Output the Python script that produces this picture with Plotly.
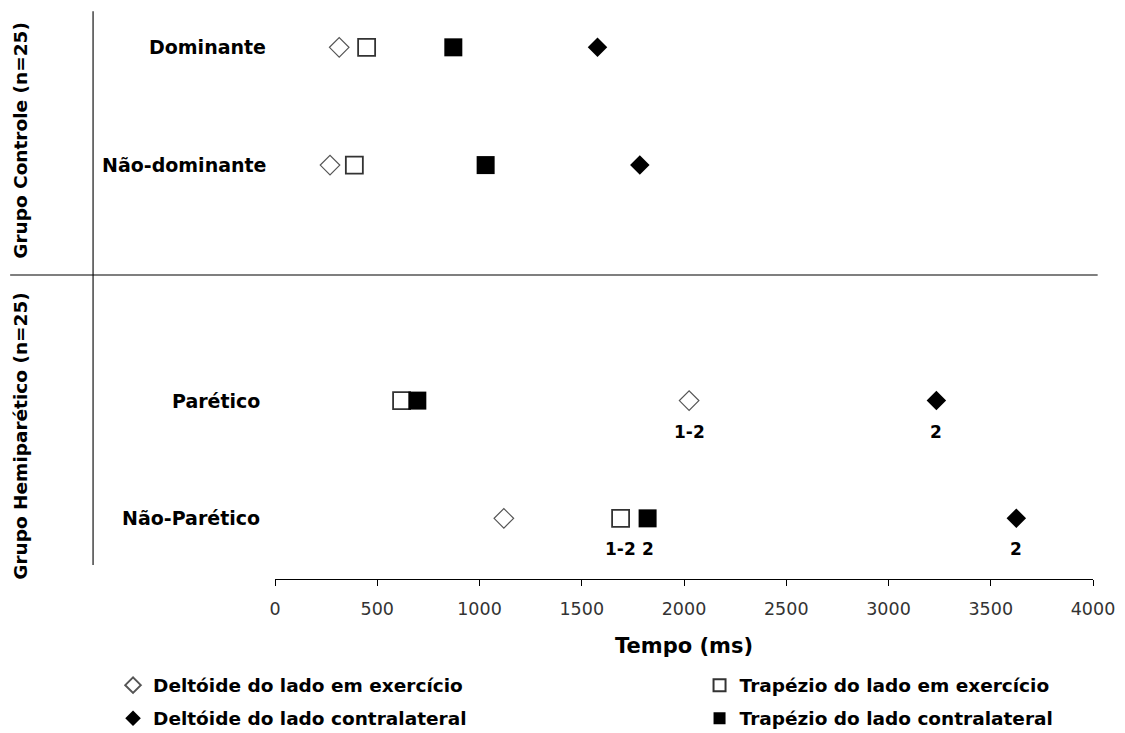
import plotly.graph_objects as go

# ---- data ----
rows = ["Dominante", "Não-dominante", "Parético", "Não-Parético"]
category_order = ["Não-Parético", "Parético", " ", "Não-dominante", "Dominante"]
groups = ["Grupo Controle (n=25)", "Grupo Hemiparético (n=25)"]

series_names = [
    "Deltóide do lado em exercício",
    "Trapézio do lado em exercício",
    "Deltóide do lado contralateral",
    "Trapézio do lado contralateral",
]
deltoide_exerc = [314, 269, 2025, 1119]
trapezio_exerc = [448, 388, 619, 1690]
deltoide_contra = [1577, 1784, 3234, 3625]
trapezio_contra = [872, 1030, 696, 1822]

deltoide_exerc_sig = ["", "", "1-2", ""]
trapezio_exerc_sig = ["", "", "", "1-2"]
deltoide_contra_sig = ["", "", "2", "2"]
trapezio_contra_sig = ["", "", "", "2"]

x_ticks = [0, 500, 1000, 1500, 2000, 2500, 3000, 3500, 4000]
x_title = "Tempo (ms)"

# ---- styling ----
FONT_B = "DejaVu Sans"
series = [
    (series_names[0], deltoide_exerc, deltoide_exerc_sig,
     dict(symbol="diamond-open", size=15, color="#555", line=dict(width=1.2, color="#555")), "legend"),
    (series_names[1], trapezio_exerc, trapezio_exerc_sig,
     dict(symbol="square-open", size=17, color="#333", line=dict(width=1.8, color="#333")), "legend2"),
    (series_names[2], deltoide_contra, deltoide_contra_sig,
     dict(symbol="diamond", size=15, color="black", line=dict(width=0)), "legend"),
    (series_names[3], trapezio_contra, trapezio_contra_sig,
     dict(symbol="square", size=18, color="black", line=dict(width=0)), "legend2"),
]

fig = go.Figure()
annotations = []
for i, (name, vals, sig, mk, lg) in enumerate(series):
    fig.add_trace(go.Scatter(
        x=vals, y=rows, mode="markers", name=name, marker=mk,
        legend=lg, legendgroup=name, cliponaxis=False,
    ))
    for xv, yv, s in zip(vals, rows, sig):
        if s:
            annotations.append(dict(
                x=xv, y=yv, xref="x", yref="y", text=s, showarrow=False,
                yshift=-31, font=dict(family=FONT_B, size=17, color="black", weight="bold"),
            ))

# row labels
label_x = {"Dominante": -0.008, "Não-dominante": -0.008, "Parético": -0.016, "Não-Parético": -0.016}
for r in rows:
    annotations.append(dict(
        x=label_x[r], y=r, xref="paper", yref="y", text=r, showarrow=False,
        xanchor="right", yanchor="middle",
        font=dict(family=FONT_B, size=19, color="black", weight="bold"),
    ))

# group labels
for g, yp in zip(groups, [0.7715, 0.2513]):
    annotations.append(dict(
        x=-0.312, y=yp, xref="paper", yref="paper", text=g, showarrow=False,
        textangle=-90, xanchor="center", yanchor="middle",
        font=dict(family=FONT_B, size=18.5, color="black", weight="bold"),
    ))

shapes = [
    dict(type="line", xref="paper", yref="paper", x0=-0.2224, x1=-0.2224, y0=0.0246, y1=0.998,
         line=dict(color="#444", width=1.5)),
    dict(type="line", xref="paper", yref="paper", x0=-0.3238, x1=1.0057, y0=0.5343, y1=0.5343,
         line=dict(color="black", width=1.2)),
]

legend_font = dict(family=FONT_B, size=18.5, color="black", weight="bold")
fig.update_layout(
    width=1117, height=725,
    margin=dict(l=267, r=32, t=2, b=154, autoexpand=False),
    plot_bgcolor="white", paper_bgcolor="white",
    showlegend=True,
    xaxis=dict(
        range=[0, 4000], tickvals=x_ticks, ticktext=[str(t) for t in x_ticks],
        showline=True, linecolor="black", linewidth=1, ticks="outside", ticklen=6,
        tickcolor="black", showgrid=False, zeroline=False, ticklabelstandoff=8,
        tickfont=dict(family="DejaVu Sans", size=17.5, color="#333"),
        title=dict(text=x_title, standoff=20,
                   font=dict(family=FONT_B, size=21, color="black", weight="bold")),
    ),
    yaxis=dict(
        type="category", categoryorder="array", categoryarray=category_order,
        range=[-0.515, 4.317], visible=False, showgrid=False, zeroline=False,
    ),
    legend=dict(x=-0.198, y=-0.154, xanchor="left", yanchor="top", orientation="v",
                font=legend_font, tracegroupgap=6, itemsizing="constant",
                bgcolor="rgba(0,0,0,0)"),
    legend2=dict(x=0.519, y=-0.154, xanchor="left", yanchor="top", orientation="v",
                 font=legend_font, tracegroupgap=6, itemsizing="constant",
                 bgcolor="rgba(0,0,0,0)"),
    annotations=annotations,
    shapes=shapes,
)

fig.write_html("out.html")
